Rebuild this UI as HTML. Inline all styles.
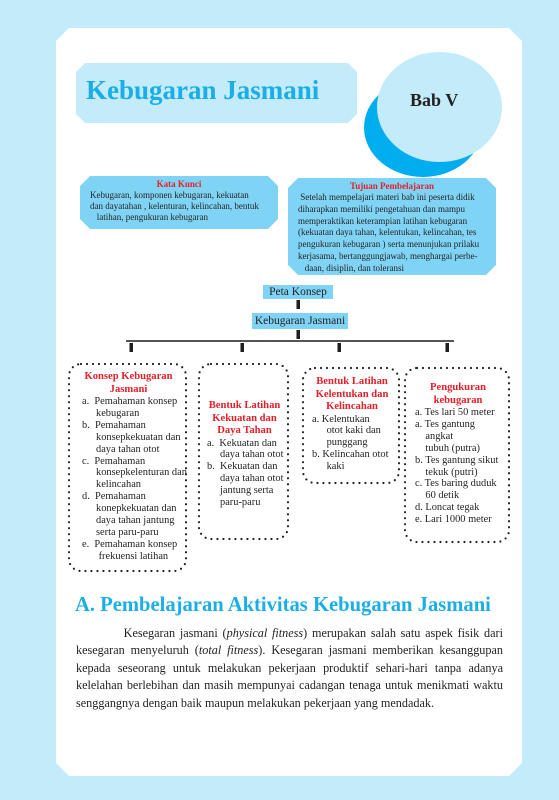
<!DOCTYPE html>
<html><head><meta charset="utf-8"><style>
*{margin:0;padding:0;box-sizing:border-box}
body{width:559px;height:800px;background:#c3ebfa;position:relative;overflow:hidden;font-family:"Liberation Serif",serif;color:#231f20}
.a{position:absolute}
.page{left:56px;top:28px;width:466px;height:748px;background:#fff;clip-path:polygon(13px 0,453px 0,466px 13px,466px 735px,453px 748px,13px 748px,0 735px,0 13px)}
.title{left:76px;top:63px;width:281px;height:60px;background:#c3ebfa;clip-path:polygon(9px 0,272px 0,281px 9px,281px 51px,272px 60px,9px 60px,0 51px,0 9px);color:#1aaee8;font-weight:bold;font-size:27px;padding:12px 0 0 10px;white-space:nowrap}
.box{background:#7fd4f5;font-size:9px;line-height:11px}
.red{color:#e3202a;font-weight:bold;text-align:center}
.dot{font-size:10.4px;line-height:11.9px;white-space:nowrap}
.dot .red{font-size:10.6px;line-height:12.5px}
.lbl{background:#7fd4f5;font-size:11.5px;text-align:center;line-height:14px}
.arr{width:4px;height:9px;background:#231f20;border-left:1px solid #888}
p.t{font-size:12.2px;line-height:17.4px;text-align:justify}
.i{padding-left:26px;text-indent:-14px}
</style></head><body>
<div class="a page"></div>
<div class="a title">Kebugaran Jasmani</div>
<div class="a" style="left:364px;top:78px;width:118px;height:99px;border-radius:50%;background:#00aeef"></div>
<div class="a" style="left:377px;top:52px;width:125px;height:110px;border-radius:50%;background:#c3ebfa"></div>
<div class="a" style="left:410px;top:90px;font-size:18px;font-weight:bold">Bab V</div>

<div class="a box" style="left:80px;top:176px;width:198px;height:53px;clip-path:polygon(10px 0,188px 0,198px 10px,198px 43px,188px 53px,10px 53px,0 43px,0 10px);padding:3px 0 0 10px;white-space:nowrap">
<div class="red" style="margin-left:-10px">Kata Kunci</div>
Kebugaran, komponen kebugaran, kekuatan<br>dan dayatahan , kelenturan, kelincahan, bentuk<br>&nbsp;&nbsp;&nbsp;latihan, pengukuran kebugaran</div>

<div class="a box" style="left:288px;top:178px;width:208px;height:97px;clip-path:polygon(10px 0,198px 0,208px 10px,208px 87px,198px 97px,10px 97px,0 87px,0 10px);padding:3px 0 0 10px;line-height:11.8px;white-space:nowrap">
<div class="red" style="margin-left:-10px;line-height:11px">Tujuan Pembelajaran</div>
&nbsp;Setelah mempelajari materi bab ini peserta didik<br>diharapkan memiliki pengetahuan dan mampu<br>memperaktikan keterampian latihan kebugaran<br>(kekuatan daya tahan, kelentukan, kelincahan, tes<br>pengukuran kebugaran ) serta menunjukan prilaku<br>kerjasama, bertanggungjawab, menghargai perbe-<br>&nbsp;&nbsp;&nbsp;daan, disiplin, dan toleransi</div>

<div class="a lbl" style="left:263px;top:285px;width:70px;height:14px">Peta Konsep</div>
<div class="a arr" style="left:296px;top:300px"></div>
<div class="a lbl" style="left:252px;top:313px;width:96px;height:16px;line-height:16px">Kebugaran Jasmani</div>
<div class="a arr" style="left:296px;top:330px"></div>
<div class="a" style="left:126px;top:340px;width:328px;height:2px;background:#555"></div>
<div class="a arr" style="left:129px;top:343px"></div>
<div class="a arr" style="left:240px;top:343px"></div>
<div class="a arr" style="left:337px;top:343px"></div>
<div class="a arr" style="left:445px;top:343px"></div>

<svg class="a" style="left:0;top:0" width="559" height="800">
<g fill="none" stroke="#231f20" stroke-width="2.2" stroke-linecap="round" stroke-dasharray="0 6">
<rect x="69" y="364" width="117" height="207" rx="12"/>
<rect x="199" y="364" width="89" height="175" rx="12"/>
<rect x="303" y="368" width="96" height="115" rx="12"/>
<rect x="405" y="368" width="104" height="174" rx="12"/>
</g></svg>

<div class="a dot" style="left:70px;top:371px;width:117px">
<div class="red">Konsep Kebugaran<br>Jasmani</div>
<div class="i">a.&nbsp; Pemahaman konsep<br>kebugaran</div>
<div class="i">b.&nbsp; Pemahaman<br>konsepkekuatan dan<br>daya tahan otot</div>
<div class="i">c.&nbsp; Pemahaman<br>konsepkelenturan dan<br>kelincahan</div>
<div class="i">d.&nbsp; Pemahaman<br>konepkekuatan dan<br>daya tahan jantung<br>serta paru-paru</div>
<div class="i">e.&nbsp; Pemahaman konsep<br>&nbsp;frekuensi latihan</div>
</div>

<div class="a dot" style="left:200px;top:400px;width:89px">
<div class="red">Bentuk Latihan<br>Kekuatan dan<br>Daya Tahan</div>
<div style="padding-left:20px;text-indent:-13px">a.&nbsp; Kekuatan dan<br>daya tahan otot</div>
<div style="padding-left:20px;text-indent:-13px">b.&nbsp; Kekuatan dan<br>daya tahan otot<br>jantung serta<br>paru-paru</div>
</div>

<div class="a dot" style="left:304px;top:376px;width:96px">
<div class="red">Bentuk Latihan<br>Kelentukan dan<br>Kelincahan</div>
<div style="padding-left:20px;text-indent:-12px">a. Kelentukan<br>&nbsp;otot kaki dan<br>&nbsp;punggang</div>
<div style="padding-left:20px;text-indent:-12px">b. Kelincahan otot<br>&nbsp;kaki</div>
</div>

<div class="a dot" style="left:406px;top:382px;width:104px">
<div class="red">Pengukuran<br>kebugaran</div>
<div style="padding-left:9px">a. Tes lari 50 meter</div>
<div style="padding-left:9px">a. Tes gantung<br>&nbsp;&nbsp;&nbsp;&nbsp;angkat<br>&nbsp;&nbsp;&nbsp;&nbsp;tubuh (putra)</div>
<div style="padding-left:9px">b. Tes gantung sikut<br>&nbsp;&nbsp;&nbsp;&nbsp;tekuk (putri)</div>
<div style="padding-left:9px">c. Tes baring duduk<br>&nbsp;&nbsp;&nbsp;&nbsp;60 detik</div>
<div style="padding-left:9px">d. Loncat tegak</div>
<div style="padding-left:9px">e. Lari 1000 meter</div>
</div>

<div class="a" style="left:75px;top:594px;font-size:20.6px;font-weight:bold;color:#1aaee8;white-space:nowrap">A.&nbsp;Pembelajaran Aktivitas Kebugaran Jasmani</div>
<div class="a" style="left:76px;top:625px;width:427px">
<p class="t">&nbsp;&nbsp;&nbsp;&nbsp;&nbsp;&nbsp;&nbsp;&nbsp;&nbsp;&nbsp;Kesegaran jasmani (<i>physical fitness</i>) merupakan salah satu aspek fisik dari kesegaran menyeluruh (<i>total fitness</i>). Kesegaran jasmani memberikan kesanggupan kepada seseorang untuk melakukan pekerjaan produktif sehari-hari tanpa adanya kelelahan berlebihan dan masih mempunyai cadangan tenaga untuk menikmati waktu senggangnya dengan baik maupun melakukan pekerjaan yang mendadak.</p>
</div>
</body></html>
